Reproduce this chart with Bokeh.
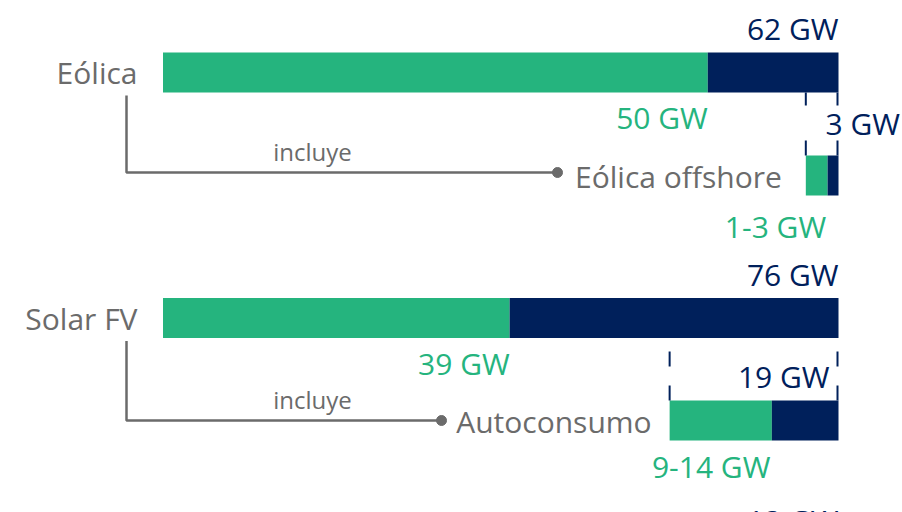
from bokeh.plotting import figure
from bokeh.models import Range1d
from bokeh.core.properties import value
from bokeh.embed import file_html
from bokeh.resources import INLINE

# ---- data ----
categories = ["Eólica", "Solar FV"]
totals = [62, 76]            # GW (navy, full bar)
greens = [50, 39]            # GW (green part)
sub_names = ["Eólica offshore", "Autoconsumo"]
sub_totals = [3, 19]         # GW
sub_low = [1, 9]
sub_high = [3, 14]
next_total = [13]            # partially visible next row
include_word = "incluye"

# ---- style ----
GREEN = "#25b47e"
NAVY = "#00205b"
GRAY = "#6b6b6b"
FONT = "Open Sans"
FS = "30px"
W, H = 902, 512
OFF = 0
X0, X1 = 162.5, 838.0        # pixel extent of full bar


def fx(px):
    return (px - X0) / (X1 - X0)


def fy(py):
    return py - OFF


p = figure(width=W, height=H, output_backend="svg", toolbar_location=None,
           x_range=Range1d(fx(OFF), fx(OFF + W)), y_range=Range1d(H, 0),
           min_border=0, outline_line_color=None)
p.axis.visible = False
p.grid.visible = False
p.background_fill_color = "white"
p.border_fill_color = "white"

main_y = [fy(72), fy(317.5)]
sub_y = [fy(175), fy(420)]
bracket_end = [557, 441]
label_kw = dict(text_font=value(FONT), text_baseline="middle")

for i in range(len(categories)):
    t = totals[i]
    g = greens[i]
    # main bar
    p.hbar(y=[main_y[i]], left=[0], right=[g / t], height=40, color=GREEN, line_color=None)
    p.hbar(y=[main_y[i]], left=[g / t], right=[1], height=40, color=NAVY, line_color=None)
    # sub bar
    st = sub_totals[i]
    sg = (sub_low[i] + sub_high[i]) / 2
    s0 = 1 - st / t
    s1 = s0 + sg / t
    p.hbar(y=[sub_y[i]], left=[s0], right=[s1], height=40, color=GREEN, line_color=None)
    p.hbar(y=[sub_y[i]], left=[s1], right=[1], height=40, color=NAVY, line_color=None)

    # category label
    p.text(x=[fx(137)], y=[main_y[i]], text=[categories[i]], text_align="right",
           text_color=GRAY, text_font_size=FS, **label_kw)
    # totals
    p.text(x=[1], y=[main_y[i] - 44], text=[f"{t} GW"], text_align="right",
           text_color=NAVY, text_font_size=FS, **label_kw)
    p.text(x=[g / t], y=[main_y[i] + 45], text=[f"{g} GW"], text_align="right",
           text_color=GREEN, text_font_size=FS, **label_kw)

    # bracket
    yb0 = main_y[i] + 23
    yb1 = sub_y[i] - 3 if i == 0 else sub_y[i]
    p.line(x=[fx(126), fx(126), fx(bracket_end[i])], y=[yb0, yb1, yb1],
           line_color=GRAY, line_width=2.5)
    p.scatter(x=[fx(bracket_end[i])], y=[yb1], size=10, color=GRAY)
    p.text(x=[fx(312)], y=[yb1 - 21], text=[include_word], text_align="center",
           text_color=GRAY, text_font_size="24px", **label_kw)

    # sub label
    p.text(x=[s0 - fx(805) + fx(781) if i == 0 else s0 - fx(669) + fx(651)], y=[sub_y[i] + 1],
           text=[sub_names[i]], text_align="right",
           text_color=GRAY, text_font_size=FS, **label_kw)

    # range ticks (navy)
    top_a = sub_y[i] - 69
    for xx in (s0, 1):
        xe = xx if xx < 1 else 1 - 1.0 / (X1 - X0)
        p.segment(x0=[xe], y0=[main_y[i] + 20 if i == 0 else top_a],
                  x1=[xe], y1=[main_y[i] + 33 if i == 0 else top_a + 15],
                  line_color=NAVY, line_width=2)
        p.segment(x0=[xe], y0=[sub_y[i] - 35], x1=[xe], y1=[sub_y[i] - 20],
                  line_color=NAVY, line_width=2)

    # sub total
    if i == 0:
        p.text(x=[fx(825)], y=[fy(123)], text=[f"{st} GW"], text_align="left",
               text_color=NAVY, text_font_size=FS, **label_kw)
    else:
        p.text(x=[fx(829)], y=[fy(376)], text=[f"{st} GW"], text_align="right",
               text_color=NAVY, text_font_size=FS, **label_kw)
    # sub range
    p.text(x=[s1 - 1.5 / (X1 - X0)], y=[sub_y[i] + 51 if i == 0 else sub_y[i] + 46],
           text=[f"{sub_low[i]}-{sub_high[i]} GW"], text_align="right",
           text_color=GREEN, text_font_size=FS, **label_kw)

# partially visible next row (cut by the bottom edge, as in the original)
p.text(x=[1], y=[fy(508)], text=[f"{next_total[0]} GW"], text_align="right",
       text_baseline="alphabetic", y_offset=12, text_color=NAVY, text_font_size=FS,
       text_font=value(FONT))

open("out.html", "w").write(file_html(p, INLINE))
